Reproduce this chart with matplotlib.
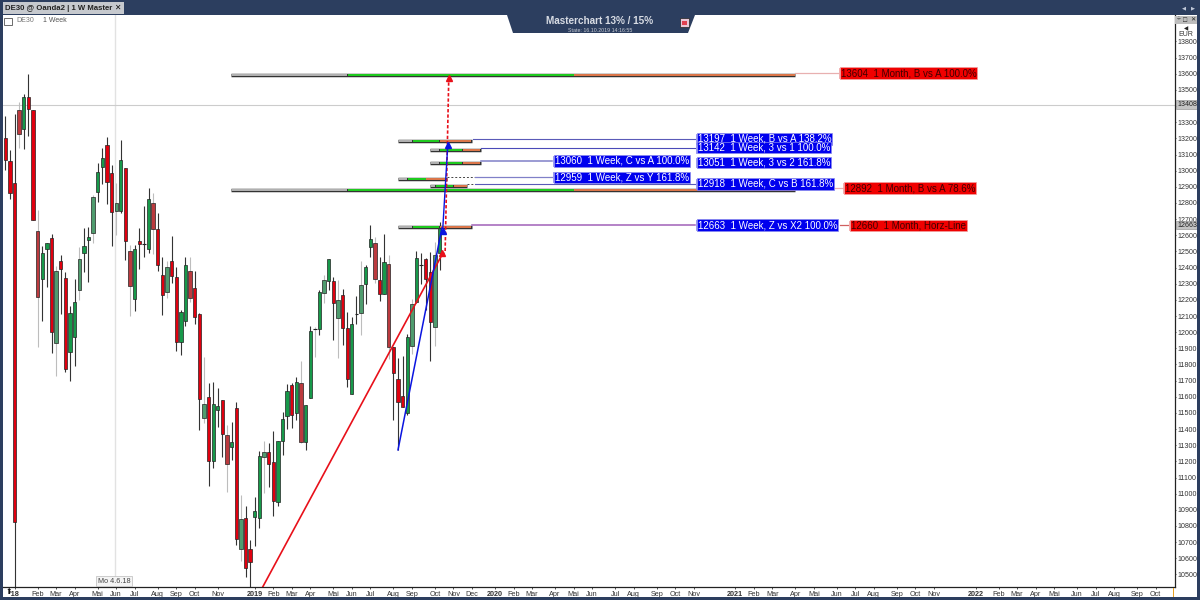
import matplotlib
matplotlib.use('Agg')
import matplotlib.pyplot as plt
from matplotlib.patches import Polygon, Rectangle
from matplotlib.transforms import Affine2D

plt.rcParams['font.family'] = ['Liberation Sans', 'DejaVu Sans']

# weekly candles, one value per week
opens = [13202, 13060, 12924, 13376, 13258, 13456, 13376, 12627, 12329, 12515,
         12583, 11933, 12441, 12336, 11877, 11970, 12261, 12490, 12571, 12614,
         12868, 13023, 13159, 12986, 12750, 12750, 13017, 12503, 12203, 12565,
         12546, 12515, 12800, 12639, 12354, 12249, 12441, 12342, 11939, 12069,
         12379, 12274, 12113, 11469, 11599, 11203, 11518, 11577, 11363, 11289,
         11531, 10658, 10850, 10658, 10856, 10850, 11227, 11258, 11196, 10949,
         11326, 11481, 11673, 11500, 11685, 11320, 11593, 12020, 12020, 12243,
         12317, 12317, 12088, 12230, 12026, 11617, 12113, 12119, 12298, 12528,
         12552, 12323, 12237, 12422, 11908, 11710, 11605, 11500, 11915, 12187,
         12416, 12453, 12373, 12032, 12490]
highs = [13339, 13128, 13351, 13425, 13475, 13599, 13376, 12757, 12534, 12552,
         12608, 12410, 12478, 12373, 12162, 12329, 12528, 12645, 12651, 12850,
         13048, 13141, 13209, 13035, 12924, 13190, 13017, 12540, 12540, 12645,
         12781, 12893, 12862, 12738, 12466, 12441, 12596, 12404, 12137, 12466,
         12466, 12379, 12119, 11846, 11685, 11692, 11655, 11580, 11425, 11444,
         11568, 10992, 10924, 10713, 10980, 11264, 11326, 11314, 11388, 11326,
         11506, 11679, 11685, 11723, 11822, 11549, 12038, 12032, 12261, 12354,
         12453, 12342, 12323, 12268, 12125, 12094, 12224, 12441, 12416, 12664,
         12590, 12466, 12608, 12478, 11908, 11840, 11853, 11989, 12206, 12503,
         12490, 12459, 12497, 12559, 12682]
lows = [13004, 12825, 10422, 13141, 13134, 13215, 12695, 11908, 12069, 12280,
        11871, 11729, 12113, 11754, 11698, 11791, 12199, 12373, 12311, 12552,
        12806, 12918, 12794, 12534, 12602, 12738, 12447, 12100, 12131, 12391,
        12466, 12490, 12484, 12379, 12107, 12212, 12305, 11884, 11859, 12038,
        12187, 12051, 11394, 11438, 11048, 11159, 11413, 11227, 11010, 11209,
        10682, 10583, 10484, 10422, 10676, 10788, 11004, 11042, 10862, 10924,
        11240, 11401, 11407, 11456, 11314, 11271, 11593, 11846, 11983, 12181,
        12261, 11952, 11840, 11921, 11661, 11617, 12051, 11983, 12175, 12466,
        12305, 12193, 12237, 11834, 11456, 11271, 11537, 11487, 11865, 12181,
        12298, 12137, 11822, 11915, 12385]
closes = [13066, 12862, 10825, 13227, 13456, 13382, 12695, 12218, 12490, 12552,
          12001, 12379, 12391, 11772, 12119, 12187, 12453, 12534, 12589, 12837,
          12992, 13079, 12930, 12744, 12800, 13066, 12565, 12286, 12515, 12546,
          12546, 12825, 12639, 12416, 12230, 12404, 12348, 11939, 12125, 12416,
          12212, 12094, 11586, 11555, 11203, 11555, 11543, 11370, 11184, 11320,
          10720, 10843, 10540, 10577, 10893, 11233, 11258, 11184, 10955, 11326,
          11463, 11636, 11487, 11692, 11320, 11549, 12007, 12020, 12249, 12323,
          12453, 12181, 12199, 12026, 11710, 12051, 12113, 12292, 12404, 12577,
          12329, 12237, 12435, 11908, 11747, 11568, 11537, 11970, 12175, 12459,
          12416, 12329, 12063, 12478, 12651]
# weeks that render washed out in the screenshot
pale_weeks = [3, 7, 11, 16, 19, 24, 27, 32, 35, 40, 43, 48, 51, 56, 64, 67, 69,
              72, 77, 80, 83, 88, 93]

# x axis, in weeks from the first candle
tick_weeks = [2, 7, 11, 15, 20, 24, 28, 33, 37, 41, 46, 54, 58, 62, 66, 71, 75,
              79, 84, 88, 93, 97, 101, 106, 110, 114, 119, 123, 127, 132, 136,
              141, 145, 149, 158, 162, 166, 171, 175, 180, 184, 188, 193, 197,
              201, 210, 215, 219, 223, 227, 232, 236, 240, 245, 249]
tick_labels = ["'18", 'Feb', 'Mar', 'Apr', 'Mai', 'Jun', 'Jul', 'Aug', 'Sep', 'Oct', 'Nov',
               '2019', 'Feb', 'Mar', 'Apr', 'Mai', 'Jun', 'Jul', 'Aug', 'Sep', 'Oct', 'Nov', 'Dec',
               '2020', 'Feb', 'Mar', 'Apr', 'Mai', 'Jun', 'Jul', 'Aug', 'Sep', 'Oct', 'Nov',
               '2021', 'Feb', 'Mar', 'Apr', 'Mai', 'Jun', 'Jul', 'Aug', 'Sep', 'Oct', 'Nov',
               '2022', 'Feb', 'Mar', 'Apr', 'Mai', 'Jun', 'Jul', 'Aug', 'Sep', 'Oct']
year_labels = ["'18", '2019', '2020', '2021', '2022']
price_ticks = list(range(10500, 13900, 100))

# projected levels: price, grey start, green start, orange start, orange end
month_levels = [13604, 12892]
month_edges = [48.9, 74, 123, 171]
week_levels = [13197, 13142, 13060, 12959, 12918, 12663]
week_edges = [[85, 88, 93.9, 101],
              [91.9, 93.9, 98.9, 103],
              [91.9, 93.9, 98.9, 103],
              [85, 87, 91, 95.6],
              [91.9, 93, 96.9, 100],
              [85, 88, 93.9, 101]]

# swing lines
red_swing_x = [55.6, 94.5]
red_swing_y = [10416, 12478]
red_target_x = [94.5, 95.2, 96.0]
red_target_y = [12478, 12497, 13592]
blue_swing_x = [85, 94.5]
blue_swing_y = [11271, 12645]
blue_target_x = [94.7, 95.8]
blue_target_y = [12645, 13172]

last_price = 12663
cursor_price = 13408


def week(px):
    # image pixel to week position
    return (px - 5.3) / 4.62


fig = plt.figure(figsize=(12, 6), dpi=100, facecolor='white')
ax = fig.add_axes([3 / 1200, 13 / 600, 1172 / 1200, 572 / 600])
ax.set_xlim(week(3), week(1175))
ax.set_ylim(10422, 13964)

ax.axvline(week(115), color='#e2e2e2', lw=1.0, zorder=1)
ax.axhline(cursor_price, color='#cccccc', lw=0.8, zorder=1)

for i in range(len(opens)):
    up = closes[i] > opens[i]
    pale = i in pale_weeks
    if pale:
        body = '#4f9c6e' if up else '#bb3a3e'
        wick = '#bdbdbd'
    else:
        body = '#17994a' if up else '#e0000f'
        wick = '#333333'
    ax.vlines(i, lows[i], highs[i], color=wick, lw=0.8, zorder=2)
    if opens[i] == closes[i]:
        ax.hlines(opens[i], i - 0.4, i + 0.4, color='#222222', lw=0.8, zorder=3)
    else:
        ax.bar(i, abs(closes[i] - opens[i]), bottom=min(opens[i], closes[i]), width=0.72,
               color=body, edgecolor='#222222', linewidth=0.5, zorder=3)


def level_bar(price, edges, orange='#e0784a'):
    y = price - 12  # bars sit a touch under their level
    ax.hlines(y, edges[0], edges[3], color='#333333', lw=2.5, zorder=4)
    ax.hlines(y, edges[0] + 0.15, edges[1], color='#b4b4b4', lw=1.4, zorder=5)
    ax.hlines(y, edges[1] + 0.15, edges[2], color='#1fcf1f', lw=1.4, zorder=5)
    ax.hlines(y, edges[2] + 0.15, edges[3] - 0.15, color=orange, lw=1.4, zorder=5)


for price in month_levels:
    level_bar(price, month_edges)
for price, edges in zip(week_levels, week_edges):
    level_bar(price, edges)

# connectors from the bars to their labels
ax.plot([week(473), week(695)], [13197, 13197], color='#5a5ab8', lw=0.8, zorder=4)
ax.plot([week(481), week(695)], [13142, 13142], color='#4a4ab8', lw=0.8, zorder=4)
ax.plot([week(481), week(552)], [13060, 13060], color='#8080c8', lw=1.1, zorder=4)
ax.plot([week(447), week(475)], [12959, 12959], color='#444444', lw=0.7, ls=(0, (2, 2)), zorder=4)
ax.plot([week(475), week(552)], [12959, 12959], color='#8080c8', lw=0.9, zorder=4)
ax.plot([week(467), week(475)], [12918, 12918], color='#444444', lw=0.7, ls=(0, (2, 2)), zorder=4)
ax.plot([week(475), week(695)], [12918, 12918], color='#5a5ab8', lw=0.8, zorder=4)
ax.plot([week(472), week(695)], [12663, 12663], color='#a060b8', lw=1.1, zorder=4)
ax.plot([week(795), week(838)], [13604, 13604], color='#e8b0b0', lw=0.9, zorder=4)
ax.plot([week(795), week(843)], [12892, 12892], color='#e8b0b0', lw=0.9, zorder=4)
ax.plot([week(840), week(848)], [12663, 12663], color='#d06060', lw=0.9, zorder=4)

# swings and their targets
ax.plot(red_swing_x, red_swing_y, color='#e8101a', lw=1.2, zorder=6)
ax.plot(blue_swing_x, blue_swing_y, color='#0a14e0', lw=1.1, zorder=7)
ax.plot(red_target_x, red_target_y, color='#e8101a', lw=1.2, ls=(0, (2, 1.2)), zorder=6)
ax.plot(blue_target_x, blue_target_y, color='#0a14e0', lw=1.0, zorder=7)
ax.plot(red_swing_x[-1], red_swing_y[-1] + 15, marker='^', ms=4.5, color='#e8101a', zorder=8)
ax.plot(red_target_x[-1], red_target_y[-1] - 20, marker='^', ms=4.5, color='#e8101a', zorder=8)
ax.plot(blue_swing_x[-1] + 0.2, blue_swing_y[-1] - 20, marker='^', ms=4.5, color='#0a14e0', zorder=8)
ax.plot(blue_target_x[-1], blue_target_y[-1] - 15, marker='^', ms=4.5, color='#0a14e0', zorder=8)


def tag(px, price, text, fill, fg, edge):
    # box first, words on a higher layer so a neighbouring box can't cover them
    ax.text(week(px), price, text, fontsize=7, color=fill, va='center', ha='left', zorder=9,
            bbox=dict(boxstyle='square,pad=0.07', fc=fill, ec=edge, lw=0.5))
    ax.text(week(px), price, text, fontsize=7, color=fg, va='center', ha='left', zorder=10)
    ax.plot([week(px - 2)] * 2, [price - 30, price + 30], color=edge, lw=0.6, zorder=9)


tag(698, 13197, '13197  1 Week, B vs A 138.2%', '#0000ee', 'white', '#8888ee')
tag(698, 13142, '13142  1 Week, 3 vs 1 100.0%', '#0000ee', 'white', '#8888ee')
tag(555, 13060, '13060  1 Week, C vs A 100.0%', '#0000ee', 'white', '#8888ee')
tag(698, 13051, '13051  1 Week, 3 vs 2 161.8%', '#0000ee', 'white', '#8888ee')
tag(555, 12959, '12959  1 Week, Z vs Y 161.8%', '#0000ee', 'white', '#8888ee')
tag(698, 12918, '12918  1 Week, C vs B 161.8%', '#0000ee', 'white', '#8888ee')
tag(698, 12663, '12663  1 Week, Z vs X2 100.0%', '#0000ee', 'white', '#8888ee')
tag(841, 13604, '13604  1 Month, B vs A 100.0%', '#f00000', '#400000', '#f0a0a0')
tag(845, 12892, '12892  1 Month, B vs A 78.6%', '#f00000', '#400000', '#f0a0a0')
tag(851, 12660, '12660  1 Month, Horz-Line', '#f00000', '#400000', '#f0a0a0')

# axes
for side in ['top', 'left']:
    ax.spines[side].set_visible(False)
for side in ['bottom', 'right']:
    ax.spines[side].set_color('#222222')
    ax.spines[side].set_linewidth(0.9)
ax.yaxis.tick_right()
ax.set_yticks(price_ticks)
ax.set_yticklabels([str(p) for p in price_ticks], fontsize=5.1, color='#333333')
ax.tick_params(axis='y', length=1.0, width=0.6, pad=0.5, color='#333333')
ax.set_xticks(tick_weeks)
ax.set_xticklabels(tick_labels, fontsize=5.2, color='#333333')
ax.tick_params(axis='x', length=1.5, width=0.6, pad=1.2, color='#333333')
for label in ax.get_xticklabels():
    if label.get_text() in year_labels:
        label.set_fontweight('bold')

# boxed price tags on the scale
trans = ax.get_yaxis_transform()
for price in [cursor_price, last_price]:
    ax.text(1.0018, price, str(price), transform=trans, fontsize=5.1, va='center', ha='left',
            color='#222222', clip_on=False, zorder=12,
            bbox=dict(boxstyle='square,pad=0.12', fc='#c4c4c4', ec='#888888', lw=0.4))

ax.text(week(114), 10458, 'Mo 4.6.18', fontsize=5.2, color='#444444', ha='center', va='center',
        zorder=10, bbox=dict(boxstyle='square,pad=0.25', fc='#f4f4f4', ec='#bbbbbb', lw=0.5))

# window chrome, placed in image pixels
px = Affine2D().scale(1, -1).translate(0, 600)
navy = '#2c3e5f'
chrome = dict(transform=px, zorder=20, linewidth=0)
fig.add_artist(Rectangle((0, 0), 1200, 15, fc=navy, **chrome))
fig.add_artist(Rectangle((0, 0), 3, 600, fc=navy, **chrome))
fig.add_artist(Rectangle((1197, 0), 3, 600, fc=navy, **chrome))
fig.add_artist(Rectangle((0, 597), 1200, 3, fc=navy, **chrome))
fig.add_artist(Rectangle((3, 2), 121, 12, fc='#c6c9ce', **chrome))
fig.add_artist(Polygon([(507, 15), (695, 15), (688, 33), (513, 33)], fc=navy, **chrome))
fig.add_artist(Rectangle((680, 18), 9, 9, fc='#e8c8d8', transform=px, zorder=21, ec='#222222', lw=0.5))
fig.add_artist(Rectangle((682, 21), 5, 4, fc='#e04050', transform=px, zorder=22, lw=0))
fig.add_artist(Rectangle((1175, 16), 22, 8, fc='#bdbdbd', **chrome))
fig.add_artist(Rectangle((4, 17.5), 8, 7, fc='white', transform=px, zorder=21, ec='#555555', lw=0.6))
fig.add_artist(Rectangle((1173, 588), 1, 9, fc='#e8a020', **chrome))


def chrome_text(x, y, s, **kw):
    kw.setdefault('va', 'center')
    fig.text(x, y, s, transform=px, zorder=25, **kw)


chrome_text(5, 8.5, 'DE30 @ Oanda2 | 1 W Master', fontsize=5.6, fontweight='bold', color='#222222')
chrome_text(117, 8, '✕', fontsize=5.5, fontweight='bold', color='#111111', ha='center')
chrome_text(600, 21, 'Masterchart 13% / 15%', fontsize=7.2, fontweight='bold', color='#d8dce4', ha='center')
chrome_text(600, 30, 'State: 16.10.2019 14:16:55', fontsize=3.8, color='#c8ccd4', ha='center')
chrome_text(1184, 7.5, '◀', fontsize=3.8, color='#c0c8d8', ha='center')
chrome_text(1193, 7.5, '▶', fontsize=3.8, color='#c0c8d8', ha='center')
chrome_text(1179, 20, '÷', fontsize=5, color='#222222', ha='center')
chrome_text(1185, 20, '□', fontsize=5, color='#222222', ha='center')
chrome_text(1193, 20, '✕', fontsize=4.5, color='#222222', ha='center')
chrome_text(1186, 29, '◀', fontsize=4, color='#222222', ha='center')
chrome_text(1186, 35, 'EUR', fontsize=5, color='#333333', ha='center')
chrome_text(16, 21, 'DE30', fontsize=5, color='#777777')
chrome_text(43, 21, '1 Week', fontsize=5, color='#555555')
chrome_text(8.5, 592.5, '⬆', fontsize=5.5, color='#111111', ha='center')

plt.savefig('out.png', dpi=100)
plt.close()
